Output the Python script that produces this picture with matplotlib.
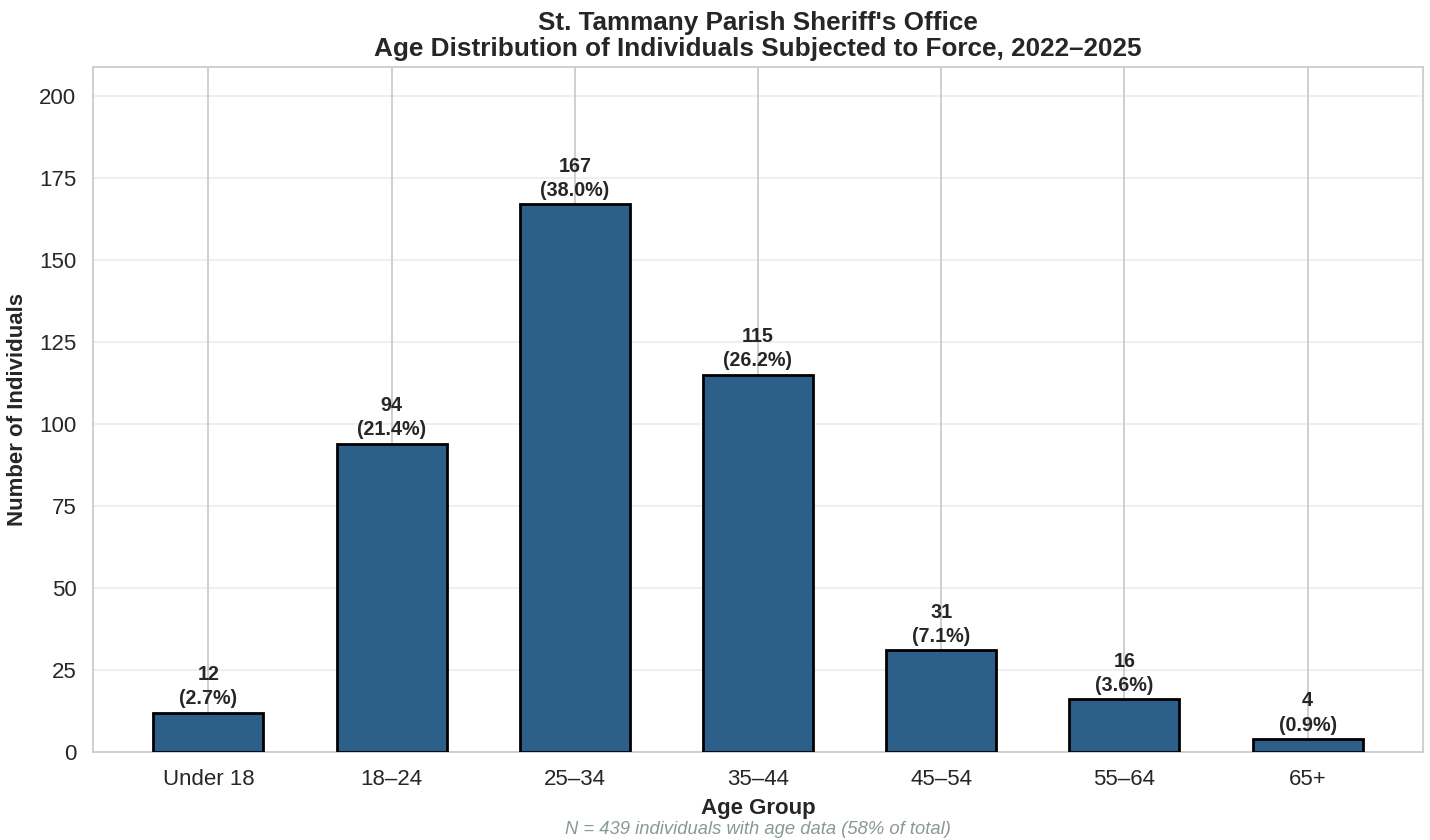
import matplotlib
matplotlib.use("Agg")
import matplotlib.pyplot as plt
import seaborn as sns
from matplotlib.transforms import blended_transform_factory

categories = ["Under 18", "18–24", "25–34", "35–44", "45–54", "55–64", "65+"]
counts = [12, 94, 167, 115, 31, 16, 4]
percents = [2.7, 21.4, 38.0, 26.2, 7.1, 3.6, 0.9]
title = "St. Tammany Parish Sheriff's Office\nAge Distribution of Individuals Subjected to Force, 2022–2025"
footnote = "N = 439 individuals with age data (58% of total)"

sns.set_theme(style="whitegrid")
plt.rcParams['font.family'] = ['Liberation Sans', 'DejaVu Sans']

fig = plt.figure(figsize=(14.3, 8.4), dpi=100)
ax = fig.add_axes([93/1430, 1-752/840, (1423-93)/1430, (752-67)/840])

x = range(len(categories))
bars = ax.bar(x, counts, width=0.6, color="#2c5f8a", edgecolor="black", linewidth=2, zorder=3)

for b, c, p in zip(bars, counts, percents):
    ax.annotate(f"{c}\n({p:.1f}%)", (b.get_x() + b.get_width()/2, b.get_height()),
                xytext=(0, 3), textcoords="offset points", ha="center", va="bottom",
                fontsize=14.2, fontweight="bold", color="#262626", linespacing=1.35)

ax.set_ylim(0, max(counts) * 1.25)
ax.set_xticks(list(x))
ax.set_xticklabels(categories)
ax.tick_params(axis="both", labelsize=16, colors="#262626", pad=6)
ax.yaxis.grid(True, color="#cccccc", alpha=0.3, linewidth=1.5)
ax.xaxis.grid(True, color="#cccccc", linewidth=1.3)
for s in ax.spines.values():
    s.set_color("#cccccc")
    s.set_linewidth(1.3)

ax.set_xlabel("Age Group", fontsize=16, fontweight="bold", color="#262626", labelpad=6)
ax.set_ylabel("Number of Individuals", fontsize=16, fontweight="bold", color="#262626", labelpad=8)
ax.set_title(title, fontsize=18.8, fontweight="bold", color="#262626", pad=8, linespacing=1.1)

tr = blended_transform_factory(ax.transAxes, fig.transFigure)
fig.text(0.5, 1 - 829/840, footnote, transform=tr, ha="center", va="center",
         fontsize=13.2, style="italic", color="#8a9899")

fig.savefig("out.png", dpi=100)
